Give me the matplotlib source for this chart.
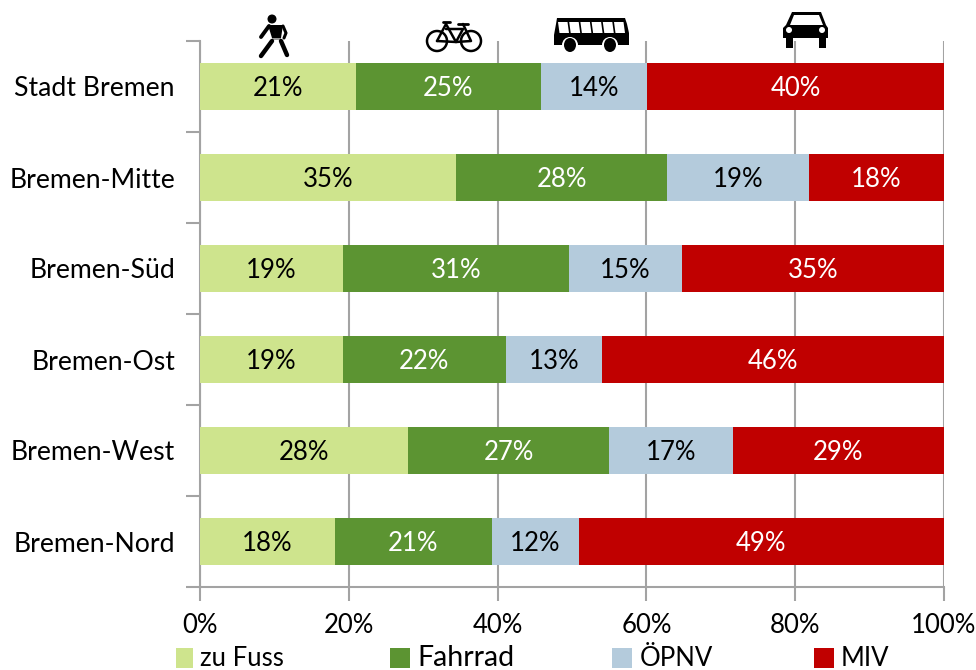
import matplotlib
matplotlib.use('Agg')
import matplotlib.pyplot as plt
from matplotlib.patches import Circle, Ellipse, Polygon, Rectangle

plt.rcParams['font.family'] = ['Lato', 'DejaVu Sans']

districts = ['Stadt Bremen', 'Bremen-Mitte', 'Bremen-Süd', 'Bremen-Ost', 'Bremen-West', 'Bremen-Nord']
modes = ['zu Fuss', 'Fahrrad', 'ÖPNV', 'MIV']
zu_fuss = [21.0, 34.4, 19.2, 19.2, 28.0, 18.1]
fahrrad = [24.8, 28.4, 30.4, 21.9, 27.0, 21.1]
oepnv = [14.3, 19.1, 15.2, 12.9, 16.6, 11.7]
miv = [39.9, 18.1, 35.2, 46.0, 28.4, 49.1]
labels_fuss = ['21%', '35%', '19%', '19%', '28%', '18%']
labels_rad = ['25%', '28%', '31%', '22%', '27%', '21%']
labels_oepnv = ['14%', '19%', '15%', '13%', '17%', '12%']
labels_miv = ['40%', '18%', '35%', '46%', '29%', '49%']
x_ticks = [0, 20, 40, 60, 80, 100]
x_labels = ['0%', '20%', '40%', '60%', '80%', '100%']

W, H = 976, 670
colors = ['#CEE48D', '#5C9432', '#B4CBDC', '#C00000']
text_colors = ['black', 'white', 'black', 'white']
grey = '#A3A3A3'

fig = plt.figure(figsize=(W / 100, H / 100), dpi=100)
ax = fig.add_axes([200 / W, 1 - 587 / H, 744 / W, 546 / H])
ax.set_xlim(0, 100)
ax.set_ylim(6, 0)

y = [i + 0.5 for i in range(6)]
left = [0] * 6
series = [zu_fuss, fahrrad, oepnv, miv]
texts = [labels_fuss, labels_rad, labels_oepnv, labels_miv]
for vals, col, tcol, labs in zip(series, colors, text_colors, texts):
    bars = ax.barh(y, vals, left=left, height=0.51, color=col, zorder=3)
    anns = ax.bar_label(bars, labels=labs, label_type='center', color=tcol, fontsize=18.5, zorder=4)
    for ann in anns:
        ann.xyann = (0, -1.5)
    left = [a + b for a, b in zip(left, vals)]

ax.set_xticks(x_ticks)
ax.set_xticklabels(x_labels, fontsize=18.5)
ax.set_yticks(y)
ax.set_yticklabels(districts, fontsize=19.2)
ax.set_yticks(range(7), minor=True)
ax.tick_params(axis='y', which='major', length=0, pad=18)
ax.tick_params(axis='y', which='minor', length=10, width=1.5, color=grey)
ax.tick_params(axis='x', length=10, width=1.5, color=grey, pad=9)
ax.grid(axis='x', color=grey, linewidth=1.5, zorder=1)
ax.set_axisbelow(True)
for side in ['top', 'right']:
    ax.spines[side].set_visible(False)
for side in ['left', 'bottom']:
    ax.spines[side].set_color(grey)
    ax.spines[side].set_linewidth(1.5)

# overlay in pixel coordinates for the legend and the pictograms
ov = fig.add_axes([0, 0, 1, 1], facecolor='none')
ov.set_xlim(0, W)
ov.set_ylim(H, 0)
ov.axis('off')

# legend
swatch_x = [176, 390, 612, 814]
swatch_w = [17, 20, 20, 20]
text_x = [200, 417, 640, 841]
legend_size = [18.5, 20.5, 18.5, 18.5]
for sx, sw, tx, name, col, fs in zip(swatch_x, swatch_w, text_x, modes, colors, legend_size):
    ov.add_patch(Rectangle((sx, 648), sw, 20, color=col, lw=0))
    ov.text(tx, 658, name, fontsize=fs, va='center', ha='left')


def line(pts, lw=2.5, color='black'):
    ov.plot([p[0] for p in pts], [p[1] for p in pts], color=color, lw=lw,
            solid_capstyle='round', solid_joinstyle='round')


# pedestrian
ov.add_patch(Circle((272, 19), 3.8, color='black'))
ov.add_patch(Polygon([(268, 25), (283, 25), (281, 38), (272, 38)], color='black', lw=0))
ov.add_patch(Rectangle((272, 38), 9, 2, color='#999999', lw=0))
line([(269, 26), (261, 37)], 2.8)
line([(283, 26), (286, 33), (284, 38)], 2.2)
line([(272, 41), (261, 56)], 3.2)
line([(281, 41), (287, 55)], 3.2)

# bicycle
for cx in [437, 471]:
    ov.add_patch(Circle((cx, 41), 10, fill=False, ec='black', lw=1.8))
line([(437, 41), (446, 24), (456, 42), (471, 41), (463, 24)], 1.8)
line([(446, 29), (463, 29), (456, 42), (437, 41)], 1.8)
line([(443, 22), (450, 22)], 2)
line([(458, 24), (468, 24)], 2)

# bus
ov.add_patch(Polygon([(557, 18), (625, 18), (627, 24), (629, 33), (629, 45), (554, 45), (554, 35), (556, 24)],
                     color='black', lw=0))
for wx in [558, 569.2, 580.4, 591.6, 602.8, 614]:
    ov.add_patch(Polygon([(wx, 22), (wx + 9.5, 22), (wx + 11, 33), (wx + 1.5, 33)], color='white', lw=0))
for cx in [570, 610]:
    ov.add_patch(Ellipse((cx, 45), 16, 16, color='white', lw=0))
    ov.add_patch(Ellipse((cx, 45), 12, 14, color='black', lw=0))

# car
ov.add_patch(Polygon([(792, 12), (821, 12), (826, 25), (828, 28), (828, 38), (783, 38), (783, 28), (786, 25)],
                     color='black', lw=0))
ov.add_patch(Polygon([(794, 15), (819, 15), (823, 25), (790, 25)], color='white', lw=0))
for cx in [789, 822]:
    ov.add_patch(Circle((cx, 30), 3, color='white', lw=0))
for wx in [786, 819]:
    ov.add_patch(Rectangle((wx, 38), 7, 10, color='black', lw=0))

plt.savefig('out.png', dpi=100)
